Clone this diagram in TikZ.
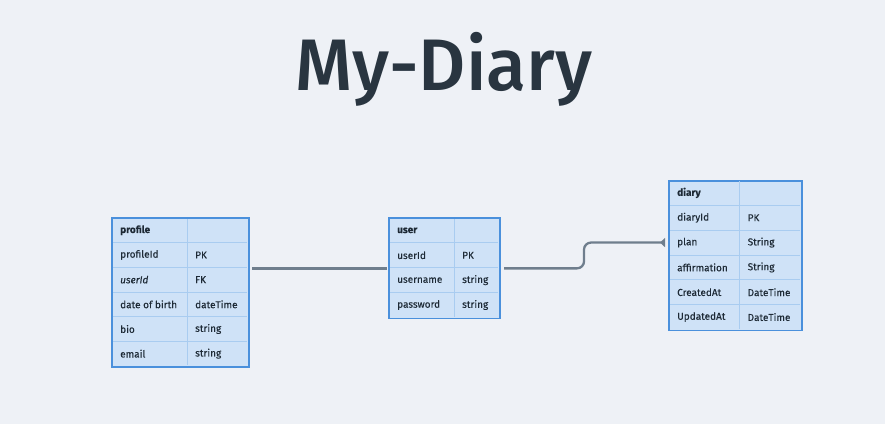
\documentclass[tikz,border=0pt]{standalone}
\usepackage{fontspec}
\setmainfont{Fira Sans}
\newfontfamily\titlefont{Fira Sans}[UprightFont=* Medium]
\newfontfamily\cellfont{Fira Sans}[FakeBold=0.25]
\usetikzlibrary{positioning,arrows.meta}
\definecolor{bg}{HTML}{EEF1F6}
\definecolor{cellfill}{HTML}{CFE2F7}
\definecolor{cellborder}{HTML}{4A90DC}
\definecolor{cellsep}{HTML}{A9CCF0}
\definecolor{ink}{HTML}{1E2A36}
\definecolor{relgray}{HTML}{6F7E8D}
\tikzstyle{tablebox} = [draw=cellborder, fill=cellfill, line width=1.2pt, inner sep=0pt, anchor=north west]
\tikzstyle{celltext} = [anchor=west, inner sep=0pt, text=ink, font=\cellfont\fontsize{10}{11}\selectfont]
\tikzstyle{cellline} = [draw=cellsep, line width=0.9pt]
\tikzstyle{relline} = [draw=relgray, line width=2.3pt, rounded corners=7pt]

\begin{document}
\begin{tikzpicture}[x=1pt, y=-1pt]
\fill[bg] (0,0) rectangle (885,424);
\useasboundingbox (0,0) rectangle (885,424);

\node[anchor=base, text=ink!95!white, font=\titlefont\fontsize{73}{73}\selectfont] (title) at (444,90) {My-Diary};

% profile
\node[tablebox, minimum width=136pt, minimum height=148pt] (profile) at (112,218) {};
\foreach \i in {1,...,5}
  \draw[cellline] (112.6,218+24.67*\i) -- (247.4,218+24.67*\i);
\draw[cellline] (187,218.6) -- (187,365.4);
\node[celltext] (profile-0) at (120,230.3) {\textbf{profile}};
\foreach \name/\type [count=\i] in {profileId/PK,\textit{userId}/FK,date of birth/dateTime,bio/string,email/string}{
  \node[celltext] (profile-\i) at (120,230.3+24.67*\i) {\name};
  \node[celltext] at (195,230.3+24.67*\i) {\type};
}
\draw[cellborder, line width=1.2pt] (profile.north west) rectangle (profile.south east);

% user
\node[tablebox, minimum width=110pt, minimum height=99.5pt] (user) at (389,218) {};
\foreach \i in {1,...,3}
  \draw[cellline] (389.6,218+24.87*\i) -- (498.4,218+24.87*\i);
\draw[cellline] (454,218.6) -- (454,316.9);
\node[celltext] (user-0) at (397,230.4) {\textbf{user}};
\foreach \name/\type [count=\i] in {userId/PK,username/string,password/string}{
  \node[celltext] (user-\i) at (397,230.4+24.87*\i) {\name};
  \node[celltext] at (462,230.4+24.87*\i) {\type};
}
\draw[cellborder, line width=1.2pt] (user.north west) rectangle (user.south east);

% diary
\node[tablebox, minimum width=132pt, minimum height=149pt] (diary) at (669,180.5) {};
\foreach \i in {1,...,5}
  \draw[cellline] (669.6,180.5+24.83*\i) -- (800.4,180.5+24.83*\i);
\draw[cellline] (739.5,181.1) -- (739.5,328.9);
\node[celltext] (diary-0) at (677,192.9) {\textbf{diary}};
\foreach \name/\type [count=\i] in {diaryId/PK,plan/String,affirmation/String,CreatedAt/DateTime,UpdatedAt/DateTime}{
  \node[celltext] (diary-\i) at (677,192.9+24.83*\i) {\name};
  \node[celltext] at (747.5,192.9+24.83*\i) {\type};
}
\draw[cellborder, line width=1.2pt] (diary.north west) rectangle (diary.south east);

% relations
\coordinate (bend) at (584,0);
\draw[relline, shorten <=2pt, shorten >=3pt] (user.west) -- (user.west -| profile.east);
\draw[relline, shorten >=4pt, -{Triangle[reversed, length=5pt, width=9pt]}]
  ([xshift=4pt]user.east) -- (bend |- user.east) -- (bend |- diary-2) -- (diary.west |- diary-2);

\end{tikzpicture}
\end{document}
